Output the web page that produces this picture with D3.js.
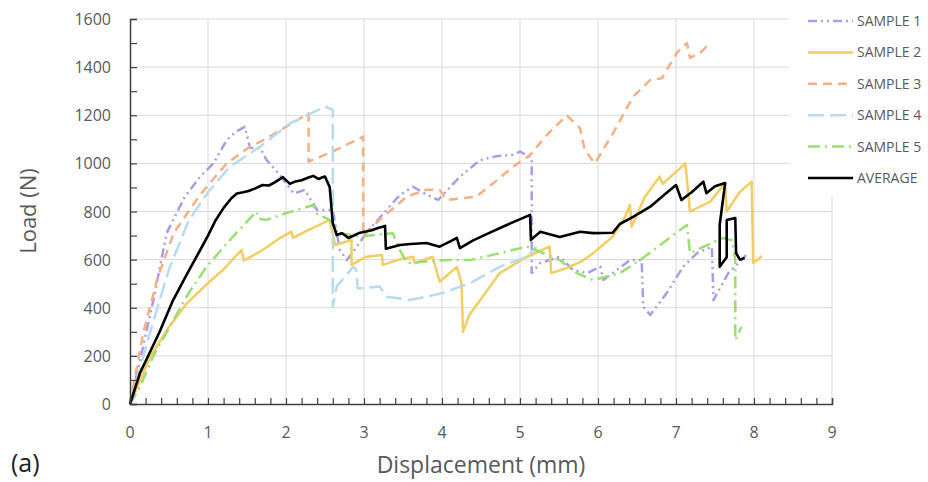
<!DOCTYPE html>
<html>
<head>
<meta charset="utf-8">
<script src="https://cdn.jsdelivr.net/npm/d3@7"></script>
<style>
  body { margin: 0; background: #fff; }
  svg { display: block; font-family: "Open Sans", sans-serif; }
</style>
</head>
<body>
<svg id="chart" width="928" height="482"></svg>
<script>
// displacement (mm) / load (N) pairs
var sample1 = [[0,0],[0.13,183],[0.3,432],[0.47,710],[0.7,860],[0.9,945],[1.07,1000],[1.24,1097],[1.35,1130],[1.47,1152],
  [1.54,1064],[1.67,1064],[1.75,1014],[1.9,960],[2.1,875],[2.24,890],[2.4,806],[2.6,806],[2.69,640],[2.78,598],
  [2.9,650],[3.05,720],[3.2,773],[3.46,869],[3.63,903],[3.8,870],[3.95,848],[4.23,945],[4.49,1014],[4.7,1030],
  [4.9,1035],[5.0,1049],[5.15,1022],[5.15,544],[5.26,586],[5.51,612],[5.68,557],[5.86,544],[6.03,570],[6.07,515],
  [6.41,598],[6.56,598],[6.58,404],[6.67,370],[6.88,461],[7.09,570],[7.27,627],[7.46,654],[7.48,432],[7.67,544],
  [7.82,591],[7.9,619]];
var sample2 = [[0,0],[0.26,197],[0.5,320],[0.73,419],[1.0,502],[1.2,560],[1.43,640],[1.46,596],[1.7,640],[1.9,685],
  [2.07,716],[2.09,690],[2.3,725],[2.56,765],[2.63,661],[2.84,682],[2.84,578],[3.03,612],[3.23,619],[3.24,578],
  [3.45,600],[3.63,612],[3.65,585],[3.88,612],[3.97,508],[4.19,570],[4.25,502],[4.27,300],[4.35,370],[4.49,432],
  [4.74,544],[5.09,612],[5.38,654],[5.4,544],[5.6,565],[5.8,595],[5.94,627],[6.19,696],[6.35,780],[6.41,827],
  [6.43,737],[6.6,860],[6.79,945],[6.83,915],[7.12,1000],[7.18,800],[7.44,841],[7.63,918],[7.65,800],[7.82,882],
  [7.97,924],[7.99,586],[8.05,600],[8.1,615]];
var sample3 = [[0,0],[0.17,295],[0.35,520],[0.56,710],[0.75,800],[0.9,870],[1.24,1000],[1.54,1070],[1.71,1097],[2.0,1152],
  [2.29,1208],[2.29,1007],[2.6,1050],[2.99,1111],[2.99,700],[3.2,765],[3.55,862],[3.8,890],[3.97,890],[4.06,848],
  [4.44,862],[4.66,918],[4.91,986],[5.13,1035],[5.35,1120],[5.6,1200],[5.77,1146],[5.83,1056],[5.96,1000],[6.19,1124],
  [6.45,1277],[6.67,1347],[6.82,1354],[7.01,1459],[7.14,1500],[7.18,1438],[7.31,1459],[7.39,1485],[7.44,1465]];
var sample4 = [[0,0],[0.25,290],[0.5,560],[0.75,760],[1.0,880],[1.28,986],[1.67,1070],[2.05,1166],[2.5,1236],[2.6,1222],
  [2.6,404],[2.65,488],[2.86,570],[2.9,560],[2.92,480],[3.2,488],[3.29,446],[3.59,432],[4.01,461],[4.36,502],
  [4.74,570],[5.09,612],[5.21,654]];
var sample5 = [[0,0],[0.13,72],[0.3,200],[0.51,322],[0.75,460],[0.98,570],[1.32,696],[1.62,800],[1.65,770],[1.75,765],
  [2.0,793],[2.35,827],[2.4,790],[2.56,765],[2.69,710],[2.95,696],[3.37,710],[3.46,640],[3.55,586],[4.06,598],
  [4.36,598],[4.74,627],[5.09,654],[5.2,640],[5.51,598],[5.73,544],[5.94,515],[6.28,544],[6.54,598],[7.14,744],
  [7.18,627],[7.46,669],[7.6,690],[7.72,680],[7.76,600],[7.76,266],[7.84,320]];
var average = [[0,0],[0.13,130],[0.38,300],[0.55,430],[0.73,540],[0.9,640],[1.0,700],[1.1,765],[1.2,815],[1.3,855],
  [1.37,875],[1.45,880],[1.52,885],[1.6,895],[1.7,910],[1.78,908],[1.85,920],[1.96,943],[2.05,915],[2.12,925],
  [2.2,930],[2.28,940],[2.35,948],[2.42,935],[2.45,940],[2.5,945],[2.56,902],[2.6,752],[2.65,702],[2.72,710],
  [2.8,690],[2.95,712],[3.1,722],[3.18,731],[3.27,740],[3.28,645],[3.46,661],[3.6,665],[3.8,669],[3.97,654],
  [4.1,675],[4.19,690],[4.23,648],[4.4,680],[4.6,710],[4.83,744],[5.13,786],[5.14,682],[5.26,716],[5.51,694],
  [5.77,716],[5.94,710],[6.19,712],[6.28,748],[6.45,778],[6.67,820],[6.85,870],[7.0,910],[7.07,848],[7.2,880],
  [7.35,924],[7.39,876],[7.5,905],[7.63,918],[7.56,744],[7.56,570],[7.65,610],[7.65,765],[7.76,773],[7.77,627],
  [7.82,600],[7.88,607]];

var seriesNames = ['SAMPLE 1', 'SAMPLE 2', 'SAMPLE 3', 'SAMPLE 4', 'SAMPLE 5', 'AVERAGE'];
var xTicks = [0, 1, 2, 3, 4, 5, 6, 7, 8, 9];
var yTicks = [0, 200, 400, 600, 800, 1000, 1200, 1400, 1600];

var styles = [
  { color: '#a99ce4', dash: '9,4,2,4,2,4', width: 2.5 },
  { color: '#f2cd62', dash: null, width: 2.5 },
  { color: '#f4b084', dash: '9,6', width: 2.5 },
  { color: '#b6dbef', dash: '16,6', width: 2.5 },
  { color: '#9ade72', dash: '12,5,2,5', width: 2.5 },
  { color: '#000000', dash: null, width: 2.6 }
];
var allSeries = [sample1, sample2, sample3, sample4, sample5, average];

var svg = d3.select('#chart');
var x = d3.scaleLinear().domain([0, 9]).range([130, 832]);
var y = d3.scaleLinear().domain([0, 1600]).range([404, 19]);

// gridlines
svg.append('g').selectAll('line').data(yTicks.slice(1)).enter().append('line')
  .attr('x1', x(0)).attr('x2', x(9)).attr('y1', function(d) { return y(d); }).attr('y2', function(d) { return y(d); })
  .attr('stroke', '#d9d9d9').attr('stroke-width', 1);
svg.append('g').selectAll('line').data(xTicks.slice(1)).enter().append('line')
  .attr('x1', function(d) { return x(d); }).attr('x2', function(d) { return x(d); })
  .attr('y1', y(0)).attr('y2', y(1600))
  .attr('stroke', '#d9d9d9').attr('stroke-width', 1);

// series
var line = d3.line().x(function(d) { return x(d[0]); }).y(function(d) { return y(d[1]); });
allSeries.forEach(function(s, i) {
  svg.append('path').datum(s).attr('d', line)
    .attr('fill', 'none').attr('stroke', styles[i].color)
    .attr('stroke-width', styles[i].width)
    .attr('stroke-dasharray', styles[i].dash)
    .attr('stroke-linejoin', 'round');
});

// axes
var xAxis = d3.axisBottom(x).tickValues(d3.range(0, 9.01, 0.2)).tickSize(-6).tickFormat('');
var yAxis = d3.axisLeft(y).tickValues(d3.range(0, 1601, 100)).tickSize(-7).tickFormat('');
var gx = svg.append('g').attr('transform', 'translate(0,' + y(0) + ')').call(xAxis);
var gy = svg.append('g').attr('transform', 'translate(' + x(0) + ',0)').call(yAxis);
[gx, gy].forEach(function(g) {
  g.select('.domain').attr('stroke', '#404040').attr('stroke-width', 1.5);
  g.selectAll('.tick line').attr('stroke', '#404040').attr('stroke-width', 1.2);
});

svg.append('g').selectAll('text').data(xTicks).enter().append('text')
  .attr('x', function(d) { return x(d); }).attr('y', 438)
  .attr('text-anchor', 'middle').attr('font-size', 16).attr('fill', '#595959')
  .text(function(d) { return d; });
svg.append('g').selectAll('text').data(yTicks).enter().append('text')
  .attr('x', 111).attr('y', function(d) { return y(d) + 6; })
  .attr('text-anchor', 'end').attr('font-size', 16).attr('fill', '#595959')
  .text(function(d) { return d; });

svg.append('text').attr('x', 481).attr('y', 473).attr('text-anchor', 'middle')
  .attr('font-size', 23).attr('fill', '#595959').text('Displacement (mm)');
svg.append('text').attr('transform', 'translate(36,211) rotate(-90)').attr('text-anchor', 'middle')
  .attr('font-size', 22).attr('fill', '#595959').text('Load (N)');
svg.append('text').attr('x', 11).attr('y', 472).attr('font-size', 25).attr('fill', '#222')
  .text('(a)');

// legend
var leg = svg.append('g');
leg.append('rect').attr('x', 789).attr('y', 0).attr('width', 139).attr('height', 197).attr('fill', '#fff');
seriesNames.forEach(function(name, i) {
  var ly = 21 + i * 31.4;
  leg.append('line').attr('x1', 808).attr('x2', 853).attr('y1', ly).attr('y2', ly)
    .attr('stroke', styles[i].color).attr('stroke-width', styles[i].width)
    .attr('stroke-dasharray', styles[i].dash);
  leg.append('text').attr('x', 857).attr('y', ly + 5).attr('font-size', 14).attr('fill', '#595959')
    .text(name);
});
</script>
</body>
</html>
